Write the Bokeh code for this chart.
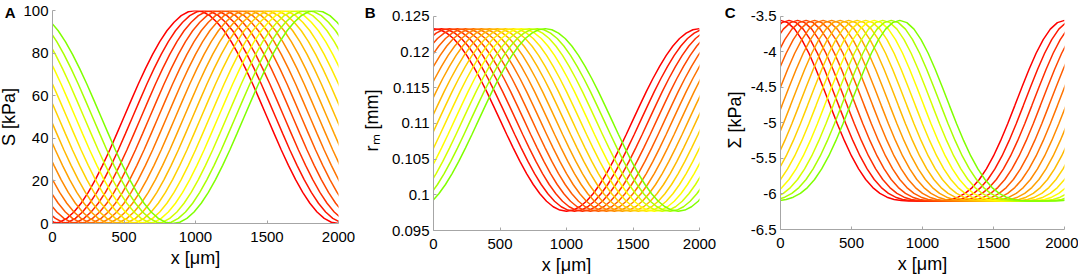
from bokeh.plotting import figure
from bokeh.layouts import row
from bokeh.models import Range1d, FixedTicker, LinearAxis
from bokeh.embed import file_html
from bokeh.resources import INLINE

# ---------------- data ----------------
# x positions (µm) at which the first (red) curve of each panel was read
x_samples = [0, 50, 100, 150, 200, 250, 300, 350, 400, 450, 500, 550, 600, 650,
             700, 750, 800, 850, 900, 950, 1000, 1050, 1100, 1150, 1200, 1250,
             1300, 1350, 1400, 1450, 1500, 1550, 1600, 1650, 1700, 1750, 1800,
             1850, 1900, 1950, 2000]
# shift (µm) of each of the 15 curves relative to the red one (red -> green)
curve_shift = [0, 60, 120, 180, 240, 300, 360, 420, 480, 540, 600, 660, 720, 780, 840]

# Panel A: S [kPa], red curve
S_red = [0, 0.6, 2.4, 5.4, 9.5, 14.6, 20.6, 27.3, 34.5, 42.2, 50, 57.8, 65.5,
         72.7, 79.4, 85.4, 90.5, 94.5, 97.6, 99.4, 100, 99.4, 97.6, 94.5, 90.5,
         85.4, 79.4, 72.7, 65.5, 57.8, 50, 42.2, 34.5, 27.3, 20.6, 14.6, 9.5,
         5.4, 2.4, 0.6, 0]
# Panel B: r_m [mm], red curve
r_red = [0.1233, 0.12314, 0.12267, 0.12191, 0.12086, 0.11955, 0.11802, 0.11631,
         0.11446, 0.1125, 0.1105, 0.1085, 0.10655, 0.10469, 0.10298, 0.10145,
         0.10015, 0.0991, 0.09833, 0.09786, 0.0977, 0.09786, 0.09833, 0.0991,
         0.10015, 0.10145, 0.10298, 0.10469, 0.10655, 0.1085, 0.1105, 0.1125,
         0.11446, 0.11631, 0.11802, 0.11955, 0.12086, 0.12191, 0.12267,
         0.12314, 0.1233]
# Panel C: Sigma [kPa], red curve
Sigma_red = [-3.555, -3.586, -3.678, -3.825, -4.018, -4.246, -4.496, -4.755,
             -5.010, -5.249, -5.464, -5.647, -5.796, -5.910, -5.992, -6.045,
             -6.077, -6.092, -6.098, -6.100, -6.100, -6.100, -6.098, -6.092,
             -6.077, -6.045, -5.992, -5.910, -5.796, -5.647, -5.464, -5.249,
             -5.010, -4.755, -4.496, -4.246, -4.018, -3.825, -3.678, -3.586,
             -3.555]

x_ticks = [0, 500, 1000, 1500, 2000]
S_ticks = [0, 20, 40, 60, 80, 100]
r_ticks = [0.095, 0.1, 0.105, 0.11, 0.115, 0.12, 0.125]
r_tick_labels = ["0.095", "0.1", "0.105", "0.11", "0.115", "0.12", "0.125"]
Sigma_ticks = [-6.5, -6, -5.5, -5, -4.5, -4, -3.5]
Sigma_tick_labels = ["-6.5", "-6", "-5.5", "-5", "-4.5", "-4", "-3.5"]

# ---------------- styling ----------------
FONT = "Liberation Sans"
AXIS_COLOR = "#a6a6a6"


def curve_color(i, n):
    k = 11
    if i <= k:
        g = int(round(255 * i / k))
        return "#%02x%02x00" % (255, g)
    r = int(round(255 - 127 * (i - k) / (n - 1 - k)))
    return "#%02x%02x00" % (r, 255)


def make_panel(base, y0, y1, ytop, yticks, ylabels, ylabel, ylab_standoff,
               letter, letter_y, letter_standoff,
               bl, fw, br, bt, fh, bb):
    # ytop: range end a few pixels above the last tick, room for the panel letter
    p = figure(output_backend="svg", toolbar_location=None,
               frame_width=fw, frame_height=fh,
               min_border_left=bl, min_border_right=br,
               min_border_top=bt, min_border_bottom=bb,
               x_range=Range1d(0, 2000), y_range=Range1d(y0, ytop))
    p.outline_line_color = None
    p.xgrid.visible = False
    p.ygrid.visible = False
    p.background_fill_color = "white"
    p.border_fill_color = "white"

    n = len(curve_shift)
    for i, s in enumerate(curve_shift):
        xs = [x - 2000 + s for x in x_samples] + [x + s for x in x_samples[1:]]
        ys = list(base) + list(base[1:])
        p.line(xs, ys, line_color=curve_color(i, n), line_width=1.5)

    for ax in (p.xaxis[0], p.yaxis[0]):
        ax.axis_line_color = AXIS_COLOR
        ax.major_tick_line_color = AXIS_COLOR
        ax.minor_tick_line_color = None
        ax.major_tick_in = 3
        ax.major_tick_out = 0
        ax.major_label_text_font = FONT
        ax.major_label_text_font_size = "15px"
        ax.major_label_text_color = "black"
        ax.axis_label_text_font = FONT
        ax.axis_label_text_font_size = "18px"
        ax.axis_label_text_font_style = "normal"
        ax.axis_label_text_color = "black"

    p.xaxis.ticker = FixedTicker(ticks=x_ticks)
    p.xaxis.major_label_standoff = 8
    p.xaxis.axis_label = "x [μm]"
    p.xaxis.axis_label_standoff = 3

    p.yaxis.ticker = FixedTicker(ticks=yticks)
    p.yaxis.bounds = (y0, y1)
    p.yaxis.major_label_overrides = {t: l for t, l in zip(yticks, ylabels)}
    p.yaxis.major_label_standoff = 4
    p.yaxis.axis_label = ylabel
    p.yaxis.axis_label_standoff = ylab_standoff

    # panel letter, drawn as the single tick label of an invisible outer axis
    letter_axis = LinearAxis(ticker=FixedTicker(ticks=[letter_y]),
                             major_label_overrides={letter_y: letter},
                             axis_line_color=None, major_tick_line_color=None,
                             minor_tick_line_color=None,
                             major_tick_in=0, major_tick_out=0,
                             major_label_standoff=letter_standoff,
                             major_label_text_font=FONT,
                             major_label_text_font_size="15px",
                             major_label_text_font_style="bold",
                             major_label_text_color="black")
    p.add_layout(letter_axis, "left")
    return p


pA = make_panel(S_red, 0, 100, 100, S_ticks, [str(t) for t in S_ticks], "S [kPa]", 1,
                "A", 99.06, -19, 59, 286, 17, 10, 213, 49)
pB = make_panel(r_red, 0.095, 0.125, 0.125841, r_ticks, r_tick_labels, "rₘ [mm]", 7,
                "B", 0.12556, -17, 78, 266, 19, 7, 220, 45)
pC = make_panel(Sigma_red, -6.5, -3.5, -3.4155, Sigma_ticks, Sigma_tick_labels, "Σ [kPa]", 3,
                "C", -3.4437, -14, 62, 284, 14, 9, 219, 44)

layout = row(pA, pB, pC, styles={"position": "relative", "left": "-7px"})

open("out.html", "w").write(file_html(layout, INLINE))
